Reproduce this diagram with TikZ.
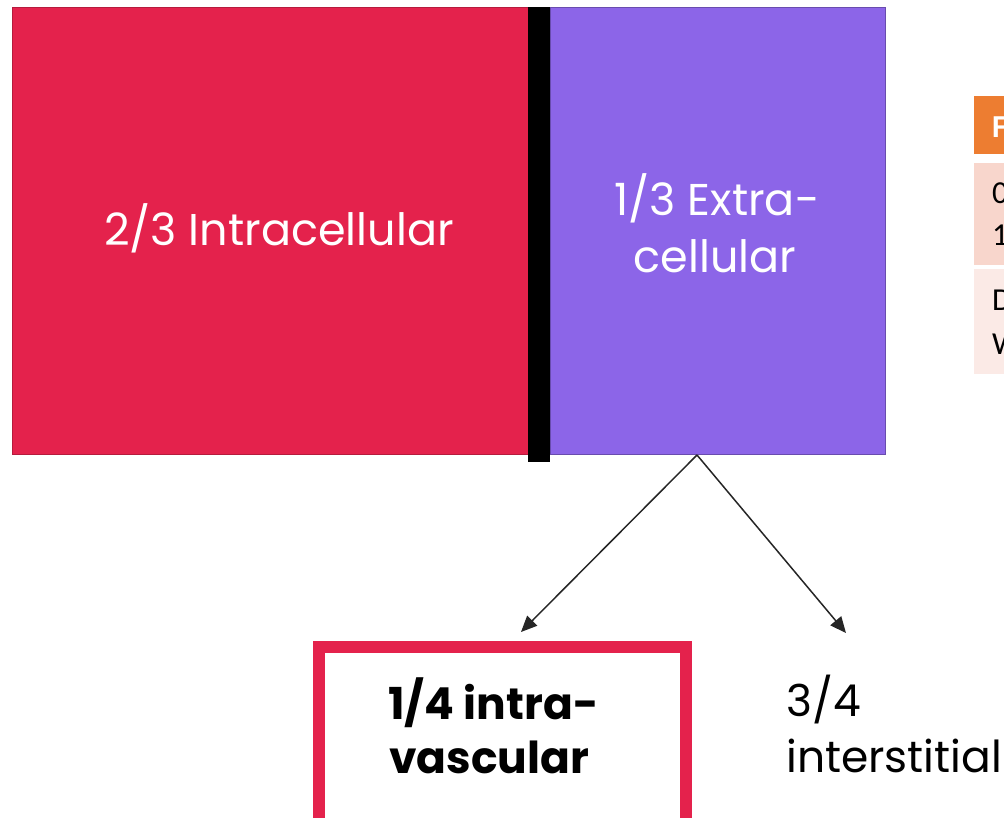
\documentclass[tikz,border=0pt]{standalone}
\usepackage{fontspec}
\newfontfamily\gfont{Poppins}
\newfontfamily\cfont{Carlito}
\usetikzlibrary{arrows.meta}
\definecolor{cred}{HTML}{E4224C}
\definecolor{cpurple}{HTML}{8C65E8}
\definecolor{corange}{HTML}{ED7D31}
\definecolor{crowa}{HTML}{F8D6CC}
\definecolor{crowb}{HTML}{FBEAE6}
\tikzset{
  block/.style={anchor=north west, inner sep=0pt, outer sep=0pt},
  toptext/.style={text=white, inner sep=0pt, font=\gfont\fontsize{44.5}{56}\selectfont},
  bottext/.style={inner sep=0pt, anchor=base west, font=\gfont\fontsize{44}{56}\selectfont},
  tabtext/.style={inner sep=0pt, anchor=base west, font=\cfont\fontsize{32}{42}\selectfont},
  conn/.style={-{Triangle[length=16pt,width=14pt]}, line width=1.5pt, draw=black!85}
}
\begin{document}
\begin{tikzpicture}[x=1pt,y=-1pt]
\useasboundingbox (0,0) rectangle (1004,818);
\clip (0,0) rectangle (1004,818);
% compartments
\node[block, fill=cred, draw=cred!80!black, line width=1pt, minimum width=516pt, minimum height=446pt] (intra) at (12,8) {};
\node[block, fill=cpurple, draw=cpurple!75!black, line width=1pt, minimum width=335pt, minimum height=446pt] (extra) at (550,8) {};
\node[block, fill=black, minimum width=22pt, minimum height=455pt] (membrane) at (528,7) {};
\node[toptext, anchor=base] (tintra) at (279,246) {2/3 Intracellular};
\node[toptext, anchor=base] (textraa) at (717,216) {1/3 Extra-};
\node[toptext, anchor=base] (textrab) at (715,273) {cellular};
% connectors
\coordinate (split) at (697,455);
\coordinate (eleft) at (521,632);
\coordinate (eright) at (846,633);
\draw[conn] (split) -- (eleft);
\draw[conn] (split) -- (eright);
% bottom
\node[block, draw=cred, fill=white, line width=12pt, minimum width=367pt, minimum height=183pt] (vbox) at (319,647) {};
\node[bottext, font=\gfont\bfseries\fontsize{44}{56}\selectfont] (tvasa) at (388,719) {1/4 intra-};
\node[bottext, font=\gfont\bfseries\fontsize{44}{56}\selectfont] (tvasb) at (389,773) {vascular};
\node[bottext] (tinta) at (786,716) {3/4};
\node[bottext] (tintb) at (786,772) {interstitial};
% table fragment
\node[block, fill=corange, minimum width=40pt, minimum height=58pt] (thead) at (974,96) {};
\node[block, fill=crowa, minimum width=40pt, minimum height=102pt] (trowa) at (974,163) {};
\node[block, fill=crowb, minimum width=40pt, minimum height=105pt] (trowb) at (974,269) {};
\node[tabtext, text=white, font=\cfont\bfseries\fontsize{32}{42}\selectfont] (th) at (992,138) {F};
\node[tabtext] (ta1) at (992,204) {0};
\node[tabtext] (ta2) at (992,246) {1};
\node[tabtext] (tb1) at (992,311) {D};
\node[tabtext] (tb2) at (992,354) {W};
\end{tikzpicture}
\end{document}
